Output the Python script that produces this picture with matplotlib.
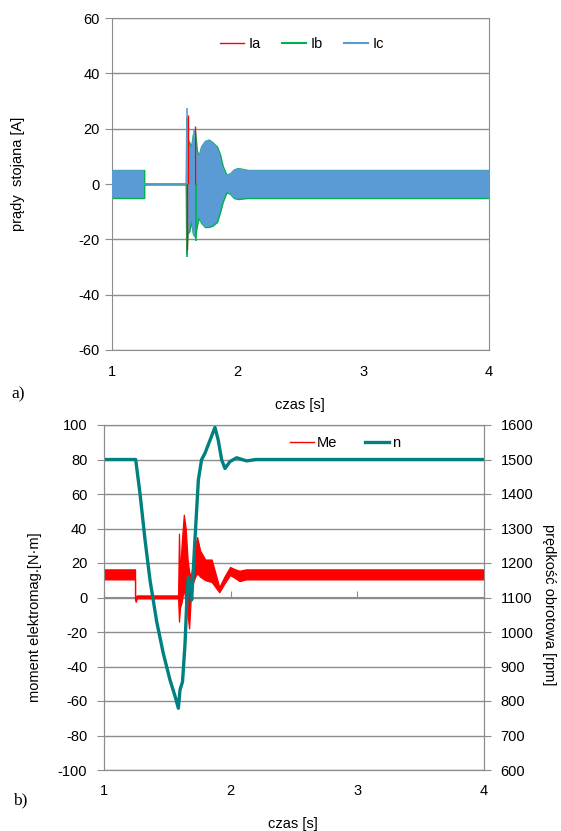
import numpy as np
import matplotlib
matplotlib.use("Agg")
import matplotlib.pyplot as plt
from matplotlib.lines import Line2D

plt.rcParams['font.family'] = ['Liberation Sans', 'DejaVu Sans']
plt.rcParams['axes.unicode_minus'] = False

# --- a) stator currents: envelope of the 50 Hz band ---
cur_t = [1.000, 1.255, 1.255, 1.588, 1.592, 1.600, 1.615, 1.630, 1.645, 1.660, 1.675, 1.690,
         1.710, 1.740, 1.770, 1.800, 1.835, 1.860, 1.880, 1.910, 1.940, 1.970, 2.000, 2.040,
         2.080, 4.000]
cur_hi = [5.0, 5.0, 0.0, 0.0, 24.0, 16.0, 15.0, 13.0, 18.0, 19.0, 12.0, 10.0,
          13.5, 15.5, 16.0, 15.0, 13.5, 10.5, 6.5, 3.3, 3.8, 5.2, 5.7, 5.4,
          5.0, 5.0]
cur_lo = [-5.0, -5.0, 0.0, 0.0, -25.0, -18.0, -17.0, -13.0, -18.0, -19.0, -15.0, -12.0,
          -14.0, -15.5, -15.5, -15.0, -13.7, -10.0, -6.5, -3.0, -3.5, -5.0, -5.4, -5.2,
          -5.0, -5.0]

# single phase peaks sticking out of the band
ia_spike_t = [1.593, 1.607, 1.662]
ia_spike_v = [-24.0, 25.0, 21.0]
ib_spike_t = [1.598, 1.672]
ib_spike_v = [-26.5, -20.5]
ic_spike_t = [1.596, 1.655]
ic_spike_v = [27.5, 20.0]

# --- b) electromagnetic torque band and speed ---
me_t = [1.000, 1.245, 1.245, 1.250, 1.260, 1.585, 1.592, 1.600, 1.612, 1.630, 1.645, 1.660,
        1.672, 1.685, 1.700, 1.720, 1.735, 1.760, 1.800, 1.850, 1.880, 1.910, 1.950, 1.995,
        2.030, 2.070, 2.120, 4.000]
me_hi = [16.3, 16.3, 1.0, 0.5, 1.2, 1.2, 37.0, 12.0, 30.0, 48.0, 40.0, 22.0,
         15.0, 12.0, 18.0, 30.0, 35.0, 27.0, 22.0, 22.0, 14.0, 6.0, 12.0, 17.7,
         16.5, 15.5, 16.3, 16.3]
me_lo = [10.5, 10.5, -1.0, -2.5, -0.5, -0.5, -14.0, -6.0, -3.0, 5.0, -2.0, -10.0,
         -18.0, 0.0, 8.0, 12.0, 14.0, 12.0, 10.0, 9.0, 6.0, 3.0, 8.0, 13.0,
         11.5, 9.5, 10.5, 10.5]

n_t = [1.0, 1.25, 1.284, 1.324, 1.363, 1.416, 1.468, 1.521, 1.56, 1.587, 1.60, 1.62,
       1.64, 1.655, 1.666, 1.68, 1.692, 1.718, 1.745, 1.77, 1.797, 1.837, 1.876, 1.902,
       1.929, 1.955, 1.994, 2.047, 2.126, 2.2, 4.0]
n_v = [1500, 1500, 1402, 1267, 1151, 1030, 938, 861, 815, 779, 832, 856,
       968, 1102, 1160, 1140, 1093, 1267, 1441, 1499, 1518, 1556, 1593, 1556,
       1499, 1474, 1494, 1505, 1496, 1500, 1500]

RED = '#FF0000'
GREEN = '#00B050'
BLUE = '#5B9BD5'
TEAL = '#008080'
GRID = '#8C8C8C'
FS = 10.5

W, H = 561, 831
fig = plt.figure(figsize=(W / 100, H / 100), dpi=100)


def px_axes(l, t, r, b):
    return fig.add_axes([l / W, 1 - b / H, (r - l) / W, (b - t) / H])


# ---------------- a) ----------------
ax = px_axes(112, 18, 489, 350)
ax.set_xlim(1, 4)
ax.set_ylim(-60, 60)
ax.set_xticks([1, 2, 3, 4])
ax.set_yticks(range(-60, 61, 20))
ax.yaxis.grid(True, color=GRID, lw=1)
ax.set_axisbelow(True)
for s in ax.spines.values():
    s.set_color(GRID)
ax.tick_params(axis='y', direction='out', length=5, color=GRID, pad=4, labelsize=FS)
ax.tick_params(axis='x', length=0, pad=11, labelsize=FS)

ax.fill_between(cur_t, cur_lo, cur_hi, color=GREEN, lw=1.2, zorder=2)
ax.fill_between(cur_t, cur_lo, cur_hi, color=BLUE, lw=0, zorder=3, edgecolor='none')
ax.vlines(ib_spike_t, 0, ib_spike_v, color=GREEN, lw=1.2, zorder=4)
ax.vlines(ia_spike_t, 0, ia_spike_v, color=RED, lw=1.0, zorder=4)
ax.vlines(ic_spike_t, 0, ic_spike_v, color=BLUE, lw=1.2, zorder=4)
mid = (np.array(cur_hi) + np.array(cur_lo)) / 2
ax.plot(cur_t, mid, color=BLUE, lw=1.2, zorder=3)

h1 = [Line2D([], [], color=RED, lw=1), Line2D([], [], color=GREEN, lw=1.5),
      Line2D([], [], color=BLUE, lw=1.5)]
ax.legend(h1, ['Ia', 'Ib', 'Ic'], loc='center', bbox_to_anchor=(302 / W, 1 - 44 / H),
          bbox_transform=fig.transFigure, ncol=3, frameon=False, fontsize=FS,
          handlelength=1.65, handletextpad=0.3, columnspacing=1.45)

fig.text(18 / W, 1 - 174 / H, 'prądy  stojana [A]', rotation=90, ha='center',
         va='center', fontsize=FS)
fig.text(300 / W, 1 - 405 / H, 'czas [s]', ha='center', va='center', fontsize=FS)
fig.text(18 / W, 1 - 394 / H, 'a)', ha='center', va='center', fontsize=12.5,
         family='Liberation Serif')

# ---------------- b) ----------------
bx = px_axes(104, 425, 484, 770)
bx.set_xlim(1, 4)
bx.set_ylim(-100, 100)
bx.set_xticks([1, 2, 3, 4])
bx.set_yticks(range(-100, 101, 20))
bx.yaxis.grid(True, color=GRID, lw=1)
bx.set_axisbelow(True)
for s in bx.spines.values():
    s.set_color(GRID)
bx.tick_params(axis='y', direction='out', length=5, color=GRID, pad=7, labelsize=FS)
bx.tick_params(axis='x', length=0, pad=10, labelsize=FS)

# horizontal axis crossing at zero
sec = bx.secondary_xaxis(0.5)
sec.set_xticks([1, 2, 3, 4])
sec.set_xticklabels([])
sec.tick_params(direction='out', length=4, color=GRID)
for s in sec.spines.values():
    s.set_color(GRID)

bx.fill_between(me_t, me_lo, me_hi, color=RED, lw=0.9, zorder=3)

bx2 = bx.twinx()
bx2.set_ylim(600, 1600)
bx2.set_yticks(range(600, 1601, 100))
for s in bx2.spines.values():
    s.set_color(GRID)
bx2.tick_params(axis='y', direction='out', length=5, color=GRID, pad=7, labelsize=FS)
bx2.plot(n_t, n_v, color=TEAL, lw=2.4, solid_joinstyle='round')

h2 = [Line2D([], [], color=RED, lw=1), Line2D([], [], color=TEAL, lw=2.4)]
bx2.legend(h2, ['Me', 'n'], loc='center', bbox_to_anchor=(345 / W, 1 - 443 / H),
           bbox_transform=fig.transFigure, ncol=2, frameon=False, fontsize=FS,
           handlelength=1.65, handletextpad=0.2, columnspacing=1.9)

fig.text(35 / W, 1 - 617 / H, 'moment elektromag.[N·m]', rotation=90, ha='center',
         va='center', fontsize=FS)
fig.text(549 / W, 1 - 605 / H, 'prędkość obrotowa [rpm]', rotation=270, ha='center',
         va='center', fontsize=FS)
fig.text(293 / W, 1 - 824 / H, 'czas [s]', ha='center', va='center', fontsize=FS)
fig.text(20 / W, 1 - 800 / H, 'b)', ha='center', va='center', fontsize=12.5,
         family='Liberation Serif')

fig.savefig('out.png', dpi=100, facecolor='white')
